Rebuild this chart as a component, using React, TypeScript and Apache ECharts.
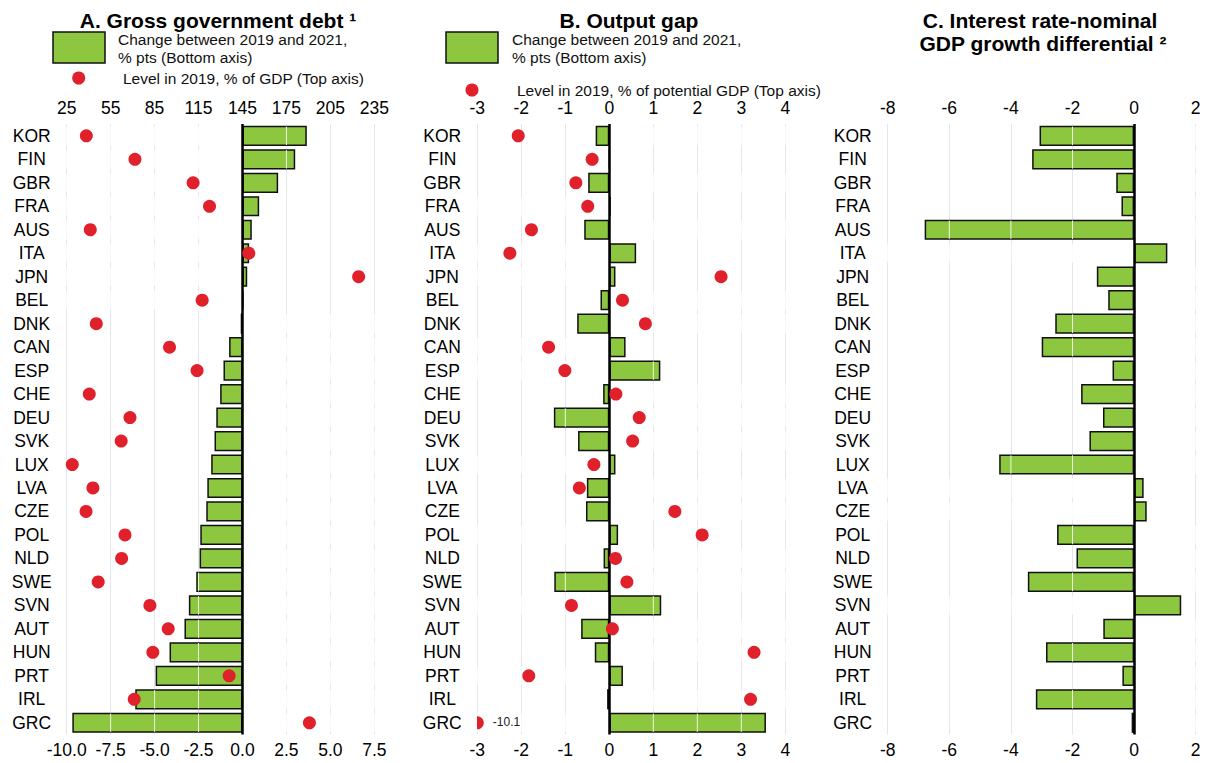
import React, { useEffect, useRef } from 'react';
import * as echarts from 'echarts';

const categories = ['KOR', 'FIN', 'GBR', 'FRA', 'AUS', 'ITA', 'JPN', 'BEL', 'DNK', 'CAN', 'ESP', 'CHE', 'DEU', 'SVK', 'LUX', 'LVA', 'CZE', 'POL', 'NLD', 'SWE', 'SVN', 'AUT', 'HUN', 'PRT', 'IRL', 'GRC'];

// Panel A: gross government debt
const debtChange = [3.66, 3.0, 2.03, 0.95, 0.53, 0.38, 0.27, 0.05, -0.1, -0.76, -1.08, -1.27, -1.49, -1.59, -1.78, -2.0, -2.06, -2.4, -2.44, -2.63, -3.05, -3.3, -4.15, -4.94, -6.1, -9.68];
const debtLevel = [38.4, 71.6, 111.3, 122.5, 41.1, 149.3, 224.3, 117.5, 45.2, 95.2, 114, 40.4, 68.2, 62.2, 28.8, 42.9, 38.2, 64.8, 62.5, 46.5, 81.8, 94.3, 83.8, 135.9, 71.1, 190.7];

// Panel B: output gap
const gapChange = [-0.31, 0, -0.48, 0.03, -0.57, 0.61, 0.14, -0.2, -0.73, 0.37, 1.16, -0.14, -1.26, -0.71, 0.14, -0.51, -0.53, 0.2, -0.13, -1.25, 1.18, -0.64, -0.33, 0.31, -0.05, 3.56];
const gapLevel = [-2.07, -0.39, -0.76, -0.49, -1.77, -2.26, 2.54, 0.3, 0.82, -1.38, -1.01, 0.15, 0.68, 0.53, -0.35, -0.68, 1.49, 2.11, 0.14, 0.4, -0.86, 0.07, 3.29, -1.83, 3.21, -10.1];

// Panel C: interest rate - nominal GDP growth differential
const rgDiff = [-3.07, -3.31, -0.58, -0.41, -6.8, 1.08, -1.21, -0.84, -2.56, -3.0, -0.7, -1.72, -1.01, -1.45, -4.38, 0.31, 0.41, -2.5, -1.87, -3.45, 1.53, -1.0, -2.86, -0.38, -3.19, -0.08];

// Axis ticks
const debtChangeTicks = [-10, -7.5, -5, -2.5, 0, 2.5, 5, 7.5];
const debtLevelTicks = [25, 55, 85, 115, 145, 175, 205, 235];
const gapTicks = [-3, -2, -1, 0, 1, 2, 3, 4];
const rgTicks = [-8, -6, -4, -2, 0, 2];

const GREEN = '#8dc63f';
const RED = '#e0202a';
const FONT = '"Liberation Sans", Arial, Helvetica, sans-serif';
const FS = 17.5;

const GRID_TOP = 124.1;
const GRID_H = 610.4;

function bottomAxis(gridIndex: number, ticks: number[], fmt?: (v: number) => string) {
  return {
    type: 'value',
    gridIndex,
    position: 'bottom',
    min: ticks[0],
    max: ticks[ticks.length - 1],
    interval: ticks[1] - ticks[0],
    axisLine: { show: false },
    axisTick: { show: false },
    splitLine: { show: true, lineStyle: { color: '#e3e6ee', width: 1 } },
    axisLabel: {
      fontSize: FS, color: '#000', fontFamily: FONT, margin: 6,
      showMinLabel: true, showMaxLabel: true,
      formatter: fmt,
    },
  };
}

function topAxis(gridIndex: number, ticks: number[], custom: boolean) {
  const ax: any = {
    type: 'value',
    gridIndex,
    position: 'top',
    min: ticks[0],
    max: ticks[ticks.length - 1],
    axisLine: { show: false },
    axisTick: { show: false },
    splitLine: { show: false },
    axisLabel: {
      fontSize: FS, color: '#000', fontFamily: FONT, margin: 7,
      showMinLabel: true, showMaxLabel: true,
    },
  };
  if (custom) {
    ax.axisLabel.customValues = ticks;
  } else {
    ax.interval = ticks[1] - ticks[0];
  }
  return ax;
}

function catAxis(gridIndex: number) {
  return {
    type: 'category',
    gridIndex,
    data: categories,
    inverse: true,
    axisLine: { show: false },
    axisTick: { show: false },
    splitLine: { show: false },
    axisLabel: { fontSize: FS, color: '#000', fontFamily: FONT, align: 'center', margin: 35, interval: 0 },
  };
}

function barSeries(xi: number, yi: number, values: number[]) {
  return {
    type: 'bar',
    xAxisIndex: xi,
    yAxisIndex: yi,
    data: values,
    barCategoryGap: '14%',
    itemStyle: { color: GREEN, borderColor: '#111', borderWidth: 1.5 },
    emphasis: { disabled: true },
    silent: true,
    z: 2,
    markLine: {
      silent: true,
      symbol: ['none', 'none'],
      label: { show: false },
      lineStyle: { color: '#000', width: 2.5, type: 'solid' },
      data: [{ xAxis: 0 }],
      z: 5,
    },
  };
}

function whiteLineSeries(xi: number, yi: number, values: number[], ticks: number[]) {
  return {
    type: 'custom',
    xAxisIndex: xi,
    yAxisIndex: yi,
    silent: true,
    z: 3,
    encode: { x: 0, y: 1 },
    data: values.map((v, i) => [v, i]),
    renderItem: (params: any, api: any) => {
      const v = api.value(0);
      const idx = api.value(1);
      const c = api.coord([0, idx]);
      const h = api.size([0, 1])[1] * 0.86 - 1.5;
      const children = ticks
        .filter((t) => t !== 0 && ((v > 0 && t < v - 0.02) || (v < 0 && t > v + 0.02)))
        .map((t) => {
          const x = api.coord([t, idx])[0];
          return {
            type: 'line',
            shape: { x1: x, y1: c[1] - h / 2, x2: x, y2: c[1] + h / 2 },
            style: { stroke: '#ffffff', lineWidth: 1, opacity: 0.85 },
          };
        });
      return { type: 'group', children };
    },
  };
}

export default function App() {
  const ref = useRef<HTMLDivElement>(null);

  useEffect(() => {
    if (!ref.current) return;
    const chart = echarts.init(ref.current, undefined, { renderer: 'svg' });

    const grids = [
      { left: 66.7, top: GRID_TOP, width: 307.6, height: GRID_H },
      { left: 477.3, top: GRID_TOP, width: 308, height: GRID_H },
      { left: 887.7, top: GRID_TOP, width: 308, height: GRID_H },
    ];

    const legendText = { fontSize: 15.5, fill: '#111', fontFamily: FONT, verticalAlign: 'middle', textAlign: 'left' };
    const titleStyle = { fontSize: 21, fontWeight: 'bold', fill: '#000', fontFamily: FONT, textAlign: 'center', verticalAlign: 'middle' };

    const option: any = {
      animation: false,
      backgroundColor: '#fff',
      grid: grids,
      xAxis: [
        bottomAxis(0, debtChangeTicks, (v: number) => v.toFixed(1)),
        topAxis(0, debtLevelTicks, true),
        bottomAxis(1, gapTicks),
        topAxis(1, gapTicks, false),
        bottomAxis(2, rgTicks),
        topAxis(2, rgTicks, false),
      ],
      yAxis: [catAxis(0), catAxis(1), catAxis(2)],
      series: [
        barSeries(0, 0, debtChange),
        whiteLineSeries(0, 0, debtChange, debtChangeTicks),
        {
          type: 'scatter',
          xAxisIndex: 1,
          yAxisIndex: 0,
          data: debtLevel.map((v, i) => [v, i]),
          symbolSize: 13,
          itemStyle: { color: RED, opacity: 1 },
          silent: true,
          z: 10,
        },
        barSeries(2, 1, gapChange),
        whiteLineSeries(2, 1, gapChange, gapTicks),
        {
          type: 'custom',
          xAxisIndex: 3,
          yAxisIndex: 1,
          clip: true,
          silent: true,
          z: 10,
          encode: { x: 0, y: 1 },
          data: gapLevel.map((v, i) => [v, i]),
          renderItem: (params: any, api: any) => {
            const v = api.value(0);
            const idx = api.value(1);
            const lo = gapTicks[0];
            const p = api.coord([Math.max(v, lo), idx]);
            const children: any[] = [
              { type: 'circle', shape: { cx: p[0], cy: p[1], r: 6.5 }, style: { fill: RED } },
            ];
            if (v < lo) {
              children.push({
                type: 'text',
                x: p[0] + 15.5,
                y: p[1] - 1,
                style: { text: v.toFixed(1), fontSize: 12, fill: '#222', fontFamily: FONT, verticalAlign: 'middle', textAlign: 'left' },
              });
            }
            return { type: 'group', children };
          },
        },
        barSeries(4, 2, rgDiff),
        whiteLineSeries(4, 2, rgDiff, rgTicks),
      ],
      graphic: [
        // Titles
        { type: 'text', x: 218, y: 20, style: { ...titleStyle, text: 'A. Gross government debt ¹' } },
        { type: 'text', x: 629, y: 20, style: { ...titleStyle, text: 'B. Output gap' } },
        { type: 'text', x: 1040, y: 20, style: { ...titleStyle, text: 'C. Interest rate-nominal' } },
        { type: 'text', x: 1043, y: 43, style: { ...titleStyle, text: 'GDP growth differential ²' } },
        // Legend A
        { type: 'rect', shape: { x: 53, y: 32, width: 52, height: 31 }, style: { fill: GREEN, stroke: '#111', lineWidth: 1.5 } },
        { type: 'text', x: 118, y: 39, style: { ...legendText, text: 'Change between 2019 and 2021,' } },
        { type: 'text', x: 118, y: 57, style: { ...legendText, text: '% pts (Bottom axis)' } },
        { type: 'circle', shape: { cx: 78.7, cy: 78, r: 6.5 }, style: { fill: RED } },
        { type: 'text', x: 123, y: 78, style: { ...legendText, text: 'Level in 2019, % of GDP (Top axis)' } },
        // Legend B
        { type: 'rect', shape: { x: 446, y: 32, width: 52, height: 31 }, style: { fill: GREEN, stroke: '#111', lineWidth: 1.5 } },
        { type: 'text', x: 512, y: 39, style: { ...legendText, text: 'Change between 2019 and 2021,' } },
        { type: 'text', x: 512, y: 57, style: { ...legendText, text: '% pts (Bottom axis)' } },
        { type: 'circle', shape: { cx: 472, cy: 90, r: 6.5 }, style: { fill: RED } },
        { type: 'text', x: 517, y: 90, style: { ...legendText, text: 'Level in 2019, % of potential GDP (Top axis)' } },
      ],
    };

    chart.setOption(option);
    return () => {
      chart.dispose();
    };
  }, []);

  return (
    <div
      ref={ref}
      style={{ position: 'absolute', left: 0, top: 0, width: 1209, height: 763, background: '#fff' }}
    />
  );
}
